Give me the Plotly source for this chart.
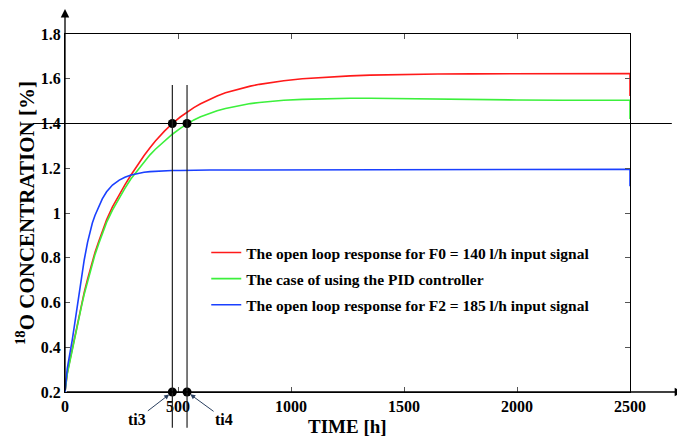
import plotly.graph_objects as go

# ---- data ----
time_h = [0, 5, 10, 15, 20, 27, 32, 40, 50, 56, 65, 74, 85, 100, 110, 121, 133, 150, 165, 184,
          210, 240, 265, 292, 320, 350, 376, 400, 440, 475, 510, 540, 570, 600, 640, 673, 710, 750,
          780, 820, 860, 900, 968, 1050, 1115, 1180, 1262, 1350, 1482, 1650, 1800, 2000, 2200, 2500, 2500]
red_F0 = [0.2, 0.255, 0.285, 0.31, 0.335, 0.37, 0.395, 0.435, 0.48, 0.51,
          0.555, 0.595, 0.645, 0.705, 0.745, 0.785, 0.825, 0.875, 0.92, 0.97,
          1.027, 1.082, 1.126, 1.17, 1.214, 1.257, 1.292, 1.322, 1.366, 1.40,
          1.429, 1.452, 1.471, 1.488, 1.508, 1.523, 1.537, 1.549, 1.557, 1.567,
          1.575, 1.582, 1.591, 1.600, 1.605, 1.609, 1.613, 1.616, 1.619, 1.621,
          1.622, 1.623, 1.623, 1.623, 1.523]
green_PID = [0.2, 0.25, 0.28, 0.305, 0.33, 0.365, 0.39, 0.43, 0.475, 0.505,
             0.548, 0.588, 0.637, 0.695, 0.735, 0.775, 0.815, 0.865, 0.908, 0.958,
             1.013, 1.068, 1.11, 1.153, 1.19, 1.228, 1.26, 1.285, 1.322, 1.352,
             1.378, 1.398, 1.416, 1.43, 1.446, 1.457, 1.467, 1.476, 1.482, 1.489,
             1.494, 1.498, 1.504, 1.508, 1.51, 1.512, 1.513, 1.513, 1.511, 1.509,
             1.507, 1.505, 1.504, 1.504, 1.42]
blue_F2 = [0.2, 0.265, 0.305, 0.335, 0.36, 0.40, 0.432, 0.485, 0.553, 0.595,
           0.66, 0.72, 0.79, 0.87, 0.915, 0.955, 0.99, 1.033, 1.063, 1.095,
           1.125, 1.147, 1.16, 1.17, 1.177, 1.182, 1.185, 1.187, 1.189, 1.19,
           1.19, 1.191, 1.191, 1.191, 1.192, 1.192, 1.192, 1.193, 1.193, 1.193,
           1.194, 1.194, 1.194, 1.194, 1.195, 1.195, 1.195, 1.195, 1.195, 1.195,
           1.195, 1.195, 1.195, 1.195, 1.12]

series_names = ["The open loop response for F0 = 140 l/h input signal",
                "The case of using the PID controller",
                "The open loop response for F2 = 185 l/h input signal"]

ti3 = 475
ti4 = 540
level_line = 1.4
y_min, y_max = 0.2, 1.8
x_min, x_max = 0, 2500
x_ticks = [0, 500, 1000, 1500, 2000, 2500]
y_ticks = [0.2, 0.4, 0.6, 0.8, 1.0, 1.2, 1.4, 1.6, 1.8]

FONT = "Liberation Serif"

fig = go.Figure()
colors = ["#ff1a1a", "#3cf03c", "#1a40ff"]
for i, (vals, name) in enumerate(zip([red_F0, green_PID, blue_F2], series_names)):
    fig.add_trace(go.Scatter(x=time_h, y=vals, mode="lines", name=name,
                             line=dict(color=colors[i], width=1.6),
                             legendgroup=f"g{i}"))

# marker dots at ti3 / ti4
fig.add_trace(go.Scatter(x=[ti3, ti4, ti3, ti4], y=[level_line, level_line, y_min, y_min],
                         mode="markers", marker=dict(color="black", size=9),
                         showlegend=False, cliponaxis=False))

shapes = []
# horizontal 1.4 line
shapes.append(dict(type="line", xref="paper", yref="y", x0=-0.057, x1=1.074,
                   y0=level_line, y1=level_line, line=dict(color="black", width=1.2)))
# vertical ti lines
for t in (ti3, ti4):
    shapes.append(dict(type="line", xref="x", yref="paper", x0=t, x1=t, y0=-0.10, y1=0.8575,
                       line=dict(color="#222", width=1.2)))
fig.update_layout(shapes=shapes)

annotations = [
    # axis arrows
    dict(x=0, y=1.081, xref="x", yref="paper", ax=0, ay=387, axref="pixel", ayref="pixel",
         showarrow=True, arrowhead=2, arrowsize=1.3, arrowwidth=1.3, arrowcolor="black", text=""),
    dict(x=1.094, y=y_min, xref="paper", yref="y", ax=-618, ay=0,
         showarrow=True, arrowhead=2, arrowsize=1.3, arrowwidth=1.3, arrowcolor="black", text=""),
    # ti labels
    dict(x=ti3, y=y_min, xref="x", yref="y", text="<b>ti3</b>", ax=-35, ay=27,
         showarrow=True, arrowhead=2, arrowsize=1, arrowwidth=1, standoff=4,
         font=dict(family=FONT, size=16, color="black")),
    dict(x=ti4, y=y_min, xref="x", yref="y", text="<b>ti4</b>", ax=37, ay=27,
         showarrow=True, arrowhead=2, arrowsize=1, arrowwidth=1, standoff=4,
         font=dict(family=FONT, size=16, color="black")),
    # axis titles
    dict(x=0.5, y=-0.095, xref="paper", yref="paper", text="<b>TIME [h]</b>", showarrow=False,
         xanchor="center", yanchor="middle", font=dict(family=FONT, size=19, color="black")),
    dict(x=-0.0708, y=0.5, xref="paper", yref="paper", text="<b><sup>18</sup>O CONCENTRATION [%]</b>",
         showarrow=False, textangle=-90, xanchor="center", yanchor="middle",
         font=dict(family=FONT, size=21, color="black")),
]

axis_common = dict(showline=True, linecolor="black", linewidth=1.2, mirror="ticks",
                   ticks="inside", ticklen=5, tickcolor="#555", showgrid=False, zeroline=False,
                   tickfont=dict(family=FONT, size=16, color="black", weight="bold"))

# page body has an 8px margin: figure is sized/offset to land on the reference pixels
fig.update_layout(
    width=677, height=431,
    margin=dict(l=57, r=55, t=26, b=47),
    paper_bgcolor="white", plot_bgcolor="white",
    xaxis=dict(range=[x_min, x_max], tickvals=x_ticks, **axis_common),
    yaxis=dict(range=[y_min, y_max], tickvals=y_ticks, **axis_common),
    annotations=annotations,
    legend=dict(x=0.25, y=0.436, xanchor="left", yanchor="top", bgcolor="rgba(0,0,0,0)",
                font=dict(family=FONT, size=15.5, color="black", weight="bold"),
                tracegroupgap=3, itemwidth=30, traceorder="grouped"),
)

fig.write_html("out.html")
